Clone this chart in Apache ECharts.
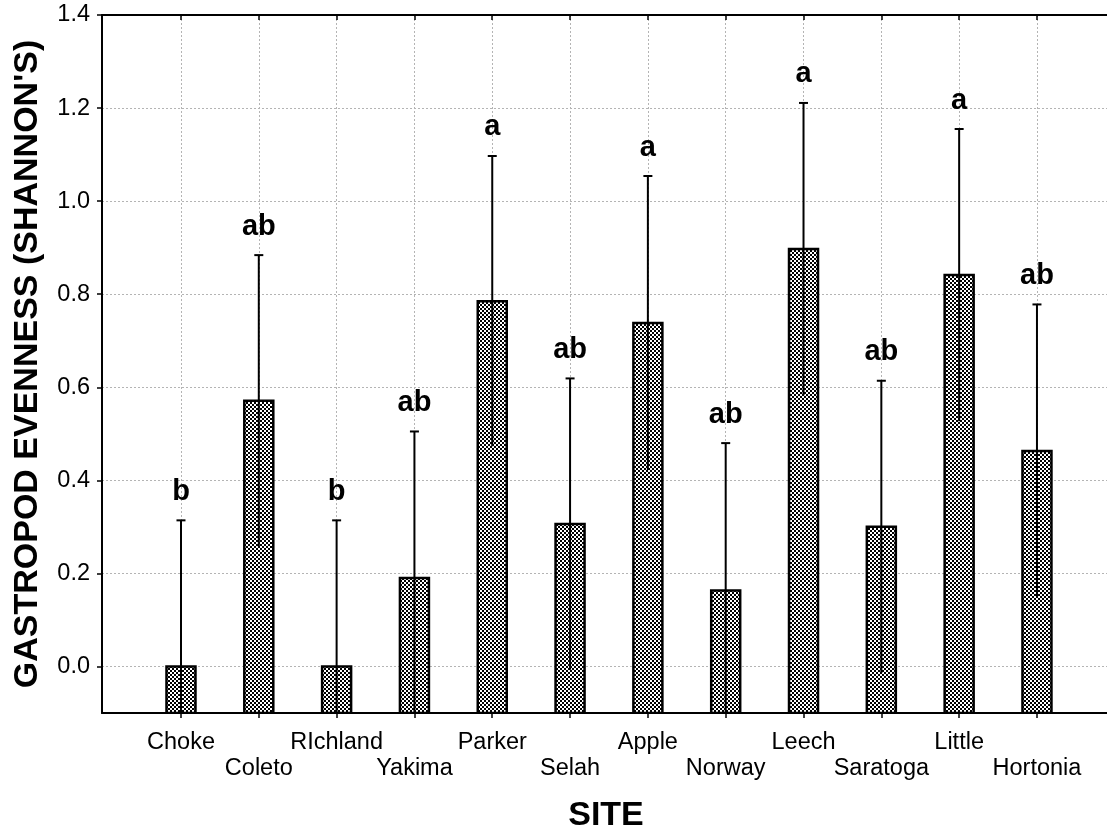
<!DOCTYPE html>
<html>
<head>
<meta charset="utf-8">
<script src="https://cdn.jsdelivr.net/npm/echarts@6/dist/echarts.min.js"></script>
<style>
  html, body { margin: 0; padding: 0; background: #fff; }
  #chart { width: 1107px; height: 833px; }
</style>
</head>
<body>
<div id="chart"></div>
<script>
// Sites, in plotting order
const sites = ['Choke', 'Coleto', 'RIchland', 'Yakima', 'Parker', 'Selah',
               'Apple', 'Norway', 'Leech', 'Saratoga', 'Little', 'Hortonia'];
// Position of each site along the x axis
const sitePositions = [1, 2, 3, 4, 5, 6, 7, 8, 9, 10, 11, 12];
// Mean gastropod evenness (Shannon's) per site
const evenness = [0.0, 0.571, 0.0, 0.190, 0.785, 0.306, 0.738, 0.163, 0.897, 0.300, 0.841, 0.463];
// Standard error of the mean per site
const stdErr = [0.314, 0.313, 0.314, 0.315, 0.312, 0.313, 0.316, 0.317, 0.314, 0.314, 0.314, 0.315];
// Homogeneous-group letters from the post-hoc comparison
const groups = ['b', 'ab', 'b', 'ab', 'a', 'ab', 'a', 'ab', 'a', 'ab', 'a', 'ab'];
// Y axis tick values
const yTicks = [0, 0.2, 0.4, 0.6, 0.8, 1.0, 1.2, 1.4];

const Y_MIN = -0.1, Y_MAX = 1.4;
const X_MIN = -0.015, X_MAX = 12.9;
const FONT = '"Liberation Sans", Arial, Helvetica, sans-serif';

// Fine checkerboard fill for the bars
const tile = document.createElement('canvas');
tile.width = 4; tile.height = 4;
const tctx = tile.getContext('2d');
tctx.fillStyle = '#fff'; tctx.fillRect(0, 0, 4, 4);
tctx.fillStyle = '#000'; tctx.fillRect(0, 0, 2, 2); tctx.fillRect(2, 2, 2, 2);
const checker = { image: tile, repeat: 'repeat' };

const seriesData = sitePositions.map((p, i) => [p, evenness[i], stdErr[i]]);

const gridLine = { show: true, lineStyle: { color: '#b4b4b4', width: 1, type: [2, 2] } };

const chart = echarts.init(document.getElementById('chart'), null, { renderer: 'canvas' });
chart.setOption({
  animation: false,
  backgroundColor: '#fff',
  grid: { left: 102, right: 0, top: 15, bottom: 120, containLabel: false },
  xAxis: [{
    type: 'value', position: 'bottom', min: X_MIN, max: X_MAX,
    axisLine: { show: true, onZero: false, lineStyle: { color: '#000', width: 2 } },
    axisTick: { show: true, inside: false, length: 5, customValues: sitePositions, lineStyle: { color: '#000', width: 1.5 } },
    axisLabel: {
      customValues: sitePositions, margin: 17,
      fontFamily: FONT, fontSize: 23.5, color: '#000', lineHeight: 26,
      formatter: v => {
        const i = Math.round(v) - 1;
        return i % 2 === 1 ? '\n' + sites[i] : sites[i];
      }
    },
    splitLine: gridLine
  }, {
    type: 'value', position: 'top', min: X_MIN, max: X_MAX,
    axisLine: { show: true, onZero: false, lineStyle: { color: '#000', width: 2 } },
    axisTick: { show: true, inside: true, length: 5, customValues: sitePositions, lineStyle: { color: '#000', width: 1.5 } },
    axisLabel: { show: false },
    splitLine: { show: false }
  }],
  yAxis: {
    type: 'value', min: Y_MIN, max: Y_MAX,
    axisLine: { show: true, onZero: false, lineStyle: { color: '#000', width: 2 } },
    axisTick: { show: true, inside: false, length: 5, customValues: yTicks, lineStyle: { color: '#000', width: 1.5 } },
    axisLabel: {
      customValues: yTicks, margin: 12,
      fontFamily: FONT, fontSize: 23.5, color: '#000',
      formatter: v => v.toFixed(1)
    },
    splitLine: gridLine
  },
  graphic: [{
    type: 'text', x: 28, y: 364, rotation: Math.PI / 2,
    style: {
      text: "GASTROPOD EVENNESS (SHANNON'S)", fill: '#000',
      font: 'bold 34px ' + FONT, align: 'center', verticalAlign: 'middle'
    }
  }, {
    type: 'text', x: 606, y: 816,
    style: {
      text: 'SITE', fill: '#000',
      font: 'bold 34px ' + FONT, align: 'center', verticalAlign: 'middle'
    }
  }],
  series: [{
    type: 'custom',
    xAxisIndex: 0,
    data: seriesData,
    clip: true,
    renderItem: (params, api) => {
      const x = api.value(0), m = api.value(1), se = api.value(2);
      const base = api.coord([x, Y_MIN]);
      const top = api.coord([x, m]);
      const hi = api.coord([x, m + se]);
      const lo = api.coord([x, Math.max(m - se, Y_MIN)]);
      const bw = 29;
      return {
        type: 'group',
        children: [{
          type: 'rect',
          shape: { x: top[0] - bw / 2, y: top[1], width: bw, height: base[1] - top[1] },
          style: { fill: checker, stroke: '#000', lineWidth: 2.5 }
        }, {
          type: 'line',
          shape: { x1: hi[0], y1: hi[1], x2: lo[0], y2: lo[1] },
          style: { stroke: '#000', lineWidth: 2 }
        }, {
          type: 'line',
          shape: { x1: hi[0] - 4.5, y1: hi[1], x2: hi[0] + 4.5, y2: hi[1] },
          style: { stroke: '#000', lineWidth: 2 }
        }, {
          type: 'text', x: hi[0], y: hi[1] - 14,
          style: {
            text: groups[params.dataIndex], fill: '#000',
            font: 'bold 29px ' + FONT, align: 'center', verticalAlign: 'bottom'
          }
        }]
      };
    }
  }]
});
</script>
</body>
</html>
